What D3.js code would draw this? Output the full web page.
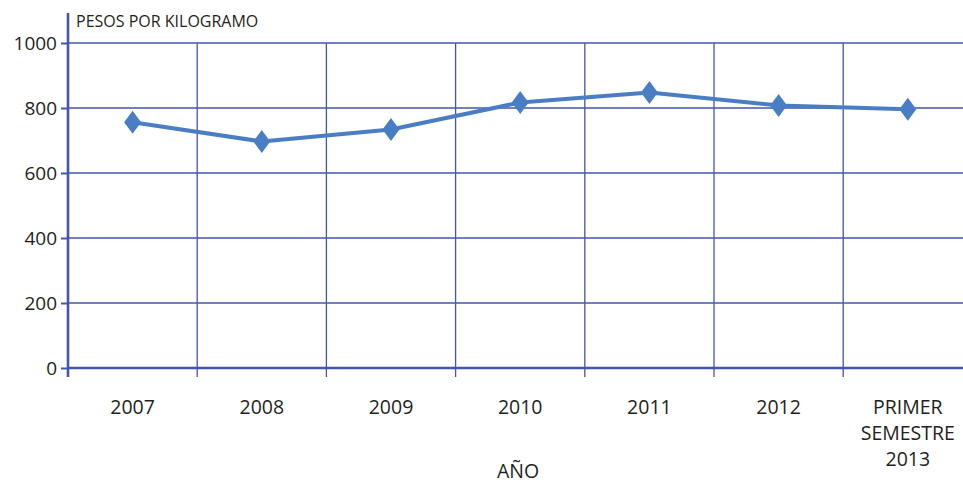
<!DOCTYPE html>
<html lang="es">
<head>
    <meta charset="UTF-8">
    <title>Pesos por kilogramo</title>
    <style>
        body { margin: 0; background: #fff; }
        svg { display: block; }
    </style>
</head>
<body>
<svg></svg>
<script src="https://cdn.jsdelivr.net/npm/d3@7/dist/d3.min.js"></script>
<script>
    // datos
    const categories = ["2007", "2008", "2009", "2010", "2011", "2012", "PRIMER SEMESTRE 2013"];
    const values = [756, 697, 734, 817, 848, 808, 796];
    const yTicks = [0, 200, 400, 600, 800, 1000];

    const width = 963,
        height = 483;

    const gridColor = "#4456aa",
        lineColor = "#4a7ec4",
        textColor = "#231f20",
        font = "'Open Sans', 'Noto Sans', sans-serif";

    const x = d3.scaleBand()
        .domain(categories)
        .range([68, 68 + 7 * 129.2])
        .padding(0);

    const y = d3.scaleLinear()
        .domain([0, 1000])
        .range([368, 43]);

    const svg = d3.select("svg")
        .attr("width", width)
        .attr("height", height)
        .style("font-family", font);

    // horizontal grid
    svg.append("g")
        .selectAll("line")
        .data(yTicks.filter(d => d > 0))
        .join("line")
        .attr("x1", x.range()[0])
        .attr("x2", width)
        .attr("y1", d => y(d))
        .attr("y2", d => y(d))
        .attr("stroke", gridColor)
        .attr("stroke-width", 1.3);

    // vertical grid at band edges
    const edges = categories.slice(1).map(c => x(c));
    svg.append("g")
        .selectAll("line")
        .data(edges)
        .join("line")
        .attr("x1", d => d)
        .attr("x2", d => d)
        .attr("y1", y(1000))
        .attr("y2", y(0) + 9)
        .attr("stroke", gridColor)
        .attr("stroke-width", 1.3);

    // x axis (zero line)
    svg.append("line")
        .attr("x1", x.range()[0])
        .attr("x2", width)
        .attr("y1", y(0))
        .attr("y2", y(0))
        .attr("stroke", gridColor)
        .attr("stroke-width", 2.6);

    // y axis
    const yAxis = svg.append("g")
        .attr("transform", `translate(${x.range()[0]},0)`)
        .call(d3.axisLeft(y).tickValues(yTicks).tickFormat(d3.format("d")).tickSize(7).tickPadding(4));
    yAxis.select(".domain").remove();
    yAxis.selectAll(".tick line").attr("stroke", gridColor).attr("stroke-width", 2);
    yAxis.selectAll(".tick text")
        .attr("fill", textColor)
        .style("font-size", "19px")
        .style("font-family", font);
    yAxis.append("line")
        .attr("y1", 13)
        .attr("y2", y(0) + 9)
        .attr("stroke", gridColor)
        .attr("stroke-width", 2.6);

    // category labels
    const xLabels = svg.append("g")
        .attr("fill", textColor)
        .attr("text-anchor", "middle")
        .style("font-size", "19.5px")
        .selectAll("text")
        .data(categories)
        .join("text")
        .attr("transform", d => `translate(${x(d) + x.bandwidth() / 2},414)`);
    xLabels.selectAll("tspan")
        .data(d => d.split(" "))
        .join("tspan")
        .attr("x", 0)
        .attr("y", (d, i) => i * 26)
        .text(d => d);

    // titles
    svg.append("text")
        .attr("x", 76)
        .attr("y", 27)
        .attr("fill", textColor)
        .style("font-size", "16px")
        .text("PESOS POR KILOGRAMO");

    svg.append("text")
        .attr("x", 518)
        .attr("y", 478)
        .attr("text-anchor", "middle")
        .attr("fill", textColor)
        .style("font-size", "19.5px")
        .text("AÑO");

    // series line
    const cx = d => x(d) + x.bandwidth() / 2;
    svg.append("path")
        .datum(categories.map((c, i) => [cx(c), y(values[i])]))
        .attr("fill", "none")
        .attr("stroke", lineColor)
        .attr("stroke-width", 4)
        .attr("stroke-linejoin", "round")
        .attr("d", d3.line());

    // diamond markers
    const diamond = {
        draw(ctx) {
            ctx.moveTo(0, -11.5);
            ctx.lineTo(8.5, 0);
            ctx.lineTo(0, 11.5);
            ctx.lineTo(-8.5, 0);
            ctx.closePath();
        }
    };
    svg.append("g")
        .attr("fill", lineColor)
        .selectAll("path")
        .data(categories)
        .join("path")
        .attr("transform", (c, i) => `translate(${cx(c)},${y(values[i])})`)
        .attr("d", d3.symbol().type(diamond));
</script>
</body>
</html>
